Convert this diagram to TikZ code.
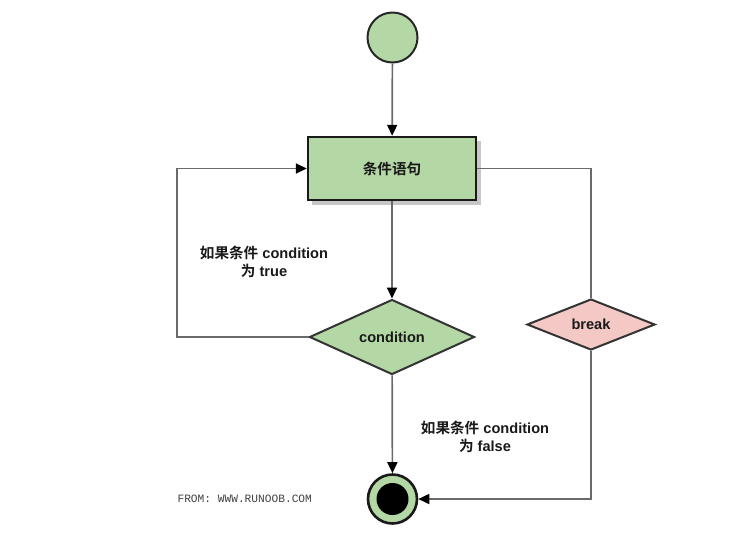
\documentclass[tikz,border=0pt]{standalone}
\usepackage{fontspec}
\setmainfont{Liberation Sans}
\setmonofont{Liberation Mono}
\newfontfamily\cjk{Noto Sans CJK SC}[BoldFont={* Bold}]
\usetikzlibrary{arrows.meta,shapes.geometric,calc}
\definecolor{gfill}{HTML}{B4D8A5}
\definecolor{pfill}{HTML}{F4C8C4}
\definecolor{lgray}{HTML}{6A6A6A}
\tikzset{
  conn/.style={draw=lgray,line width=1.7pt},
  arr/.style={conn,-{Triangle[length=11pt,width=10pt,fill=black,color=black]}},
  dia/.style={diamond,draw=black!80,line width=2pt,inner sep=0pt},
  lbl/.style={font=\bfseries\fontsize{14.6}{18.5}\selectfont,align=center,text=black!90},
}
\begin{document}
\begin{tikzpicture}[x=1pt,y=-1pt]
\useasboundingbox (0,0) rectangle (754,550);
% start
\node[circle,draw=black!85,line width=2pt,fill=gfill,minimum size=50pt,inner sep=0pt] (start) at (392.5,37.5) {};
% statement box
\fill[black!22] (312,141) rectangle (481,205);
\node[draw=black!90,line width=2.4pt,fill=gfill,minimum width=168pt,minimum height=63pt,inner sep=0pt,lbl] (stmt) at (392,168.5) {{\cjk\bfseries 条件语句}};
% condition
\node[dia,fill=gfill,minimum width=165pt,minimum height=75pt,lbl,aspect=2.2] (cond) at (392,337) {condition};
% break
\node[dia,fill=pfill,minimum width=128pt,minimum height=51pt,lbl,aspect=2.5] (brk) at (591,324.5) {break};
% end
\node[circle,draw=black!90,line width=2.6pt,fill=gfill,minimum size=49pt,inner sep=0pt] (end) at (392.5,499) {};
\node[circle,fill=black,minimum size=32pt,inner sep=0pt] (endin) at (392.5,499) {};
% connectors
\draw[arr] (start) -- (stmt);
\draw[arr] (stmt) -- (cond);
\draw[arr] (cond) -- (end);
\coordinate (c1) at (177,337);
\coordinate (c2) at (177,168.5);
\draw[arr] (cond.west) -- (c1) -- (c2) -- (stmt.west);
\coordinate (b1) at (591,168.5);
\draw[conn] (stmt.east) -- (b1) -- (brk.north);
\coordinate (b2) at (591,499);
\draw[arr] (brk.south) -- (b2) -- (end.east);
% labels
\node[lbl] (ltrue) at (264,262) {{\cjk\bfseries 如果条件} condition\\{\cjk\bfseries 为} true};
\node[lbl] (lfalse) at (485,437) {{\cjk\bfseries 如果条件} condition\\{\cjk\bfseries 为} false};
\node[font=\ttfamily\fontsize{11.2}{13}\selectfont,anchor=west,text=black!75] (from) at (174,499) {FROM: WWW.RUNOOB.COM};
\end{tikzpicture}
\end{document}
